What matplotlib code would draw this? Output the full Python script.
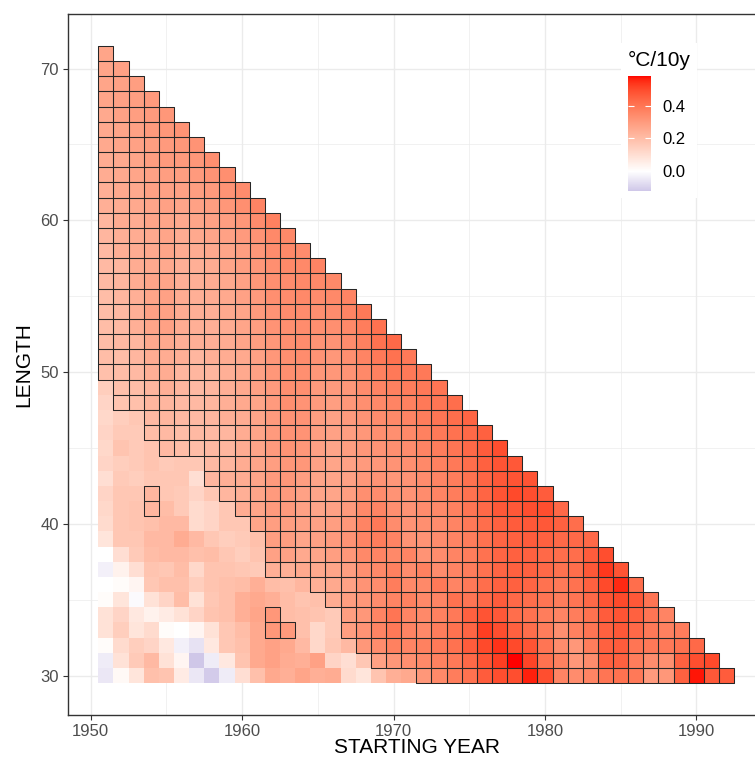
import numpy as np
import matplotlib
matplotlib.use("Agg")
import matplotlib.pyplot as plt
from matplotlib.colors import ListedColormap, Normalize
from matplotlib.patches import Rectangle
from matplotlib.collections import PatchCollection

plt.rcParams["font.family"] = ["Liberation Sans", "DejaVu Sans"]

start_years = list(range(1951, 1993))
row_lengths = list(range(71, 29, -1))

# trend (hundredths of degC per decade), one row per length from 71 down to 30,
# each row starting with 1951
trend = [
    [27],
    [27, 28],
    [27, 28, 29],
    [27, 28, 29, 30],
    [26, 28, 29, 30, 31],
    [26, 27, 28, 30, 31, 32],
    [26, 27, 28, 29, 30, 31, 32],
    [25, 26, 27, 29, 30, 30, 31, 33],
    [25, 26, 27, 28, 29, 29, 30, 32, 33],
    [24, 26, 26, 28, 28, 28, 29, 30, 32, 34],
    [24, 25, 26, 27, 28, 27, 28, 29, 31, 33, 36],
    [22, 25, 25, 27, 27, 26, 27, 28, 29, 31, 34, 37],
    [22, 24, 25, 26, 27, 25, 26, 27, 28, 30, 32, 35, 35],
    [21, 24, 25, 26, 27, 25, 25, 26, 27, 29, 31, 34, 35, 34],
    [21, 22, 25, 26, 26, 24, 24, 25, 27, 29, 31, 33, 35, 35, 36],
    [21, 22, 25, 27, 27, 24, 24, 25, 26, 28, 31, 33, 34, 35, 35, 35],
    [20, 22, 24, 27, 28, 25, 24, 25, 26, 28, 30, 33, 34, 35, 34, 35, 36],
    [20, 21, 24, 28, 28, 25, 24, 24, 26, 27, 30, 32, 34, 34, 33, 34, 36, 39],
    [20, 21, 24, 27, 28, 25, 24, 24, 25, 27, 29, 32, 33, 34, 33, 33, 35, 38, 41],
    [20, 21, 22, 26, 26, 24, 24, 24, 25, 27, 29, 31, 33, 34, 32, 32, 34, 37, 41, 43],
    [20, 20, 22, 25, 25, 24, 22, 24, 25, 26, 28, 31, 33, 34, 32, 31, 33, 36, 39, 41, 39],
    [19, 20, 21, 24, 25, 22, 22, 22, 24, 26, 28, 31, 33, 33, 31, 31, 32, 35, 37, 39, 39, 39],
    [15, 19, 20, 22, 24, 22, 21, 22, 24, 26, 28, 30, 33, 33, 30, 30, 31, 34, 36, 37, 38, 39, 40],
    [13, 18, 19, 22, 22, 21, 21, 22, 24, 26, 27, 30, 33, 32, 30, 29, 31, 33, 35, 36, 37, 39, 40, 42],
    [12, 15, 17, 21, 22, 21, 21, 22, 24, 25, 27, 30, 32, 32, 29, 28, 30, 32, 34, 35, 36, 38, 40, 42, 44],
    [13, 16, 16, 20, 21, 20, 21, 21, 22, 25, 27, 30, 32, 32, 29, 28, 29, 31, 33, 33, 35, 37, 39, 41, 43, 45],
    [12, 18, 16, 18, 21, 20, 20, 21, 22, 25, 27, 30, 32, 31, 28, 27, 29, 31, 32, 33, 34, 36, 38, 40, 43, 46, 49],
    [13, 15, 16, 18, 16, 17, 17, 21, 22, 25, 27, 29, 31, 31, 28, 27, 28, 30, 31, 32, 33, 35, 37, 39, 42, 45, 48, 47],
    [10, 16, 15, 17, 17, 17, 10, 22, 24, 25, 27, 30, 31, 29, 27, 27, 28, 31, 32, 31, 32, 34, 36, 38, 41, 44, 47, 48, 48],
    [13, 17, 17, 22, 17, 16, 13, 17, 22, 24, 27, 30, 30, 28, 27, 27, 29, 33, 34, 32, 32, 34, 36, 38, 41, 44, 48, 50, 49, 46],
    [12, 17, 18, 22, 20, 16, 11, 13, 17, 25, 27, 30, 30, 28, 27, 28, 30, 35, 36, 33, 32, 34, 35, 37, 40, 43, 47, 47, 49, 49, 43],
    [11, 17, 18, 19, 21, 21, 11, 13, 17, 17, 27, 29, 29, 28, 28, 29, 31, 36, 39, 34, 32, 33, 34, 36, 39, 42, 45, 46, 47, 47, 45, 42],
    [8, 17, 17, 21, 21, 25, 21, 17, 15, 16, 19, 29, 29, 27, 28, 30, 32, 36, 38, 36, 32, 32, 34, 36, 38, 41, 44, 45, 46, 45, 43, 43, 43],
    [0, 10, 16, 20, 21, 21, 19, 20, 17, 15, 18, 28, 28, 26, 27, 29, 31, 35, 36, 35, 36, 32, 34, 36, 38, 41, 44, 45, 45, 43, 42, 42, 46, 49],
    [-3, 4, 10, 18, 17, 20, 12, 18, 18, 17, 16, 24, 24, 26, 26, 27, 29, 33, 35, 37, 34, 37, 34, 36, 38, 41, 44, 45, 45, 43, 41, 42, 47, 53, 48],
    [0, 1, 3, 17, 19, 19, 15, 18, 19, 20, 24, 20, 19, 22, 24, 26, 28, 32, 34, 38, 35, 35, 39, 36, 39, 42, 45, 45, 44, 41, 39, 41, 45, 50, 55, 42],
    [1, 8, -1, 9, 13, 20, 9, 17, 19, 24, 26, 24, 20, 18, 19, 25, 29, 31, 34, 36, 37, 35, 36, 41, 40, 43, 46, 43, 42, 40, 38, 40, 43, 48, 50, 47, 40],
    [9, 13, 7, 4, 6, 9, 13, 18, 19, 24, 27, 31, 20, 19, 18, 16, 29, 31, 36, 40, 36, 35, 37, 39, 45, 48, 47, 42, 41, 38, 36, 38, 41, 46, 48, 45, 40, 36],
    [9, 15, 8, 11, 1, 0, 3, 9, 17, 20, 26, 31, 30, 19, 12, 16, 29, 32, 36, 39, 36, 35, 38, 41, 44, 52, 49, 45, 42, 38, 33, 37, 40, 45, 47, 43, 39, 37, 38],
    [1, 11, 15, 13, 7, -3, -6, 7, 17, 19, 26, 28, 26, 21, 12, 17, 21, 31, 34, 37, 36, 37, 39, 41, 46, 50, 54, 50, 48, 40, 34, 31, 38, 45, 46, 40, 39, 39, 41, 43],
    [-4, 9, 16, 21, 9, 3, -12, -4, 7, 18, 26, 28, 25, 24, 28, 13, 10, 17, 28, 31, 33, 35, 37, 39, 43, 48, 52, 58, 51, 41, 37, 31, 34, 45, 45, 38, 34, 33, 45, 49, 50],
    [-5, 2, 8, 19, 18, 6, -5, -11, -4, 10, 19, 26, 24, 27, 24, 25, 11, 8, 18, 24, 26, 31, 35, 38, 41, 46, 49, 49, 56, 49, 36, 34, 36, 40, 41, 39, 30, 31, 45, 57, 47, 46],
]

# first starting year with a significant trend, per row (same order as trend)
sig_first = [1951] * 22 + [1952, 1952, 1954, 1954, 1955, 1958, 1958, 1959, 1960, 1961,
                           1962, 1962, 1962, 1965, 1966, 1967, 1967, 1968, 1969, 1972]
sig_extra = [(1954, 42), (1954, 41), (1962, 34), (1962, 33), (1963, 33)]

# grid of values, rows ordered by length ascending
lengths = sorted(row_lengths)
z = np.full((len(lengths), len(start_years)), np.nan)
sig = np.zeros_like(z, dtype=bool)
for L, row, first in zip(row_lengths, trend, sig_first):
    i = lengths.index(L)
    for j, v in enumerate(row):
        z[i, j] = v / 100
        if start_years[j] >= first:
            sig[i, j] = True
for s, L in sig_extra:
    sig[lengths.index(L), start_years.index(s)] = True

vmin, vmax = np.nanmin(z), np.nanmax(z)


# colour scale: white at zero, red for warming, lavender for cooling (Lab blend)
def to_lab(hexcol):
    rgb = np.array(matplotlib.colors.to_rgb(hexcol))
    lin = np.where(rgb > 0.04045, ((rgb + 0.055) / 1.055) ** 2.4, rgb / 12.92)
    m = np.array([[0.4124, 0.3576, 0.1805], [0.2126, 0.7152, 0.0722], [0.0193, 0.1192, 0.9505]])
    xyz = m @ lin / np.array([0.95047, 1.0, 1.08883])
    f = np.where(xyz > 0.008856, np.cbrt(xyz), 7.787 * xyz + 16 / 116)
    return np.array([116 * f[1] - 16, 500 * (f[0] - f[1]), 200 * (f[1] - f[2])])


def from_lab(c):
    fy = (c[0] + 16) / 116
    f = np.array([fy + c[1] / 500, fy, fy - c[2] / 200])
    xyz = np.where(f ** 3 > 0.008856, f ** 3, (f - 16 / 116) / 7.787) * np.array([0.95047, 1.0, 1.08883])
    minv = np.array([[3.2406, -1.5372, -0.4986], [-0.9689, 1.8758, 0.0415], [0.0557, -0.2040, 1.0570]])
    lin = np.clip(minv @ xyz, 0, 1)
    rgb = np.where(lin > 0.0031308, 1.055 * lin ** (1 / 2.4) - 0.055, 12.92 * lin)
    return np.clip(rgb, 0, 1)


white, high, low = to_lab("#ffffff"), to_lab("#ff0000"), to_lab("#cfc7e8")
cols = []
for x in np.linspace(vmin, vmax, 512):
    if x >= 0:
        cols.append(from_lab(white + (high - white) * x / vmax))
    else:
        cols.append(from_lab(white + (low - white) * x / vmin))
cmap = ListedColormap(cols)
cmap.set_bad((1, 1, 1, 0))
norm = Normalize(vmin, vmax)

W, H = 755, 758
fig = plt.figure(figsize=(W / 100, H / 100), dpi=100)
ax = fig.add_axes([68 / W, 1 - 715 / H, 698 / W, 701 / H])

xe = np.arange(start_years[0] - 0.5, start_years[-1] + 1)
ye = np.arange(lengths[0] - 0.5, lengths[-1] + 1)
mesh = ax.pcolormesh(xe, ye, np.ma.masked_invalid(z), cmap=cmap, norm=norm, zorder=1)

boxes = [Rectangle((start_years[j] - 0.5, lengths[i] - 0.5), 1, 1)
         for i, j in zip(*np.nonzero(sig))]
ax.add_collection(PatchCollection(boxes, facecolor="none", edgecolor="#262626",
                                  linewidth=0.75, zorder=2))

ax.set_xticks(range(1950, 1991, 10))
ax.set_yticks(range(30, 71, 10))
ax.set_xticks(range(1955, 1986, 10), minor=True)
ax.set_yticks(range(35, 66, 10), minor=True)
ax.set_xlim(1948.5, 1994.6)
ax.set_ylim(27.4, 73.6)
ax.set_axisbelow(True)
ax.grid(which="major", color="#ebebeb", linewidth=1.0)
ax.grid(which="minor", color="#ebebeb", linewidth=0.5)
ax.tick_params(which="major", direction="out", length=3.5, width=0.8, color="#333333",
               labelsize=12, labelcolor="#4d4d4d", pad=3)
ax.tick_params(which="minor", length=0)
for sp in ax.spines.values():
    sp.set_color("#333333")
    sp.set_linewidth(1.0)

ax.set_xlabel("STARTING YEAR", fontsize=15, labelpad=-0.5)
ax.set_ylabel("LENGTH", fontsize=15, labelpad=5)

# legend box and colour bar
ax.add_patch(Rectangle((621 / W, 1 - 198 / H), 76 / W, 155 / H, transform=fig.transFigure,
                       facecolor="white", edgecolor="none", zorder=0.8))
fig.text(628 / W, 1 - 66 / H, "°C/10y", fontsize=15, va="baseline", ha="left")
cax = fig.add_axes([628 / W, 1 - 191 / H, 23 / W, 115 / H])
cb = fig.colorbar(mesh, cax=cax, ticks=[0.0, 0.2, 0.4])
cb.outline.set_visible(False)
cb.ax.set_yticklabels(["0.0", "0.2", "0.4"])
cb.ax.tick_params(direction="in", length=4.5, width=0.8, color="white", labelsize=12, pad=8,
                  left=True, right=True)

fig.savefig("out.png", dpi=100)
